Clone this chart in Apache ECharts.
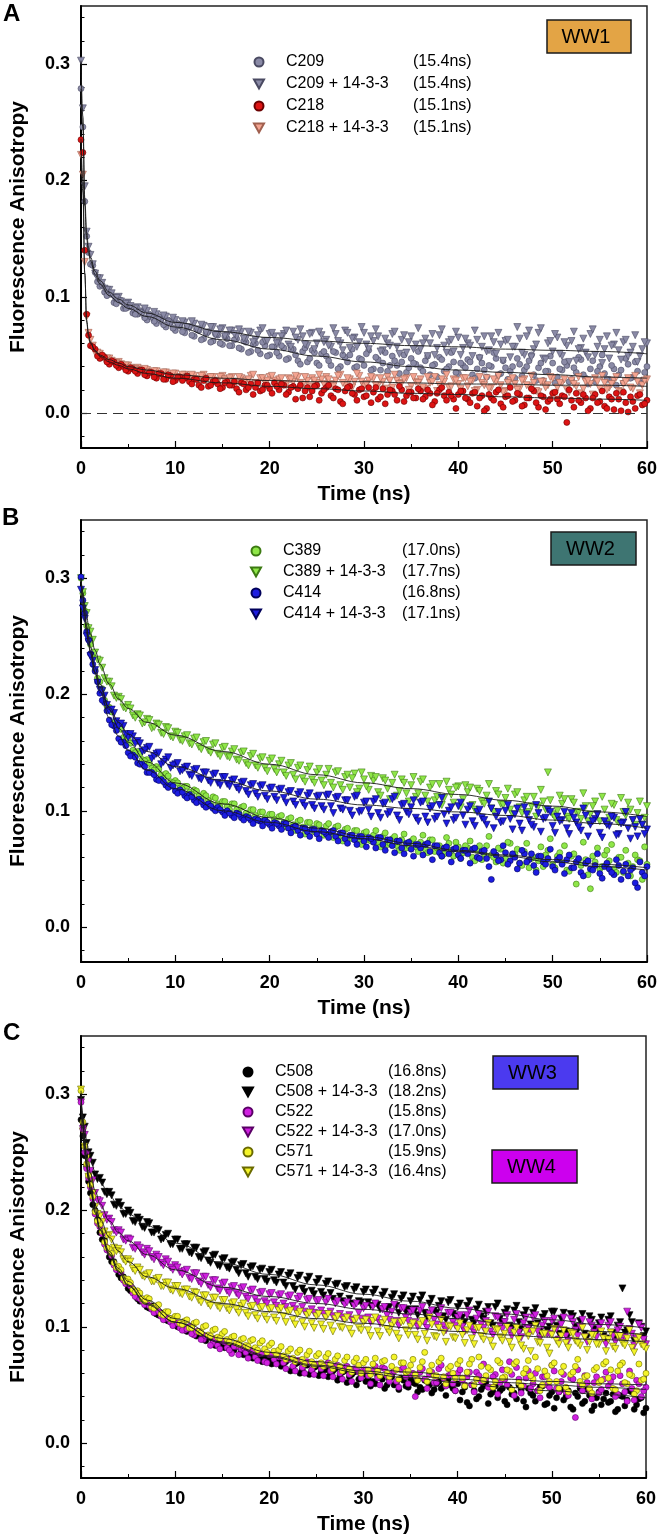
<!DOCTYPE html>
<html><head><meta charset="utf-8">
<script src="https://cdn.jsdelivr.net/npm/echarts@6/dist/echarts.min.js"></script>
<style>html,body{margin:0;padding:0;background:#fff}#c{width:660px;height:1539px}</style>
</head><body><div id="c"></div><script>
// ---------- sample times (ns) ----------
const sampleTimes = [0,0.2,0.4,0.6,0.8,
1,1.5,2,2.5,3,3.5,4,4.5,5,5.5,
6,6.5,7,7.5,8,8.5,9,9.5,10,10.5,
11,11.5,12,12.5,13,13.5,14,14.5,15,15.5,
16,16.5,17,17.5,18,18.5,19,19.5,20,20.5,
21,21.5,22,22.5,23,23.5,24,24.5,25,25.5,
26,26.5,27,27.5,28,28.5,29,29.5,30,30.5,
31,31.5,32,32.5,33,33.5,34,34.5,35,35.5,
36,36.5,37,37.5,38,38.5,39,39.5,40,40.5,
41,41.5,42,42.5,43,43.5,44,44.5,45,45.5,
46,46.5,47,47.5,48,48.5,49,49.5,50,50.5,
51,51.5,52,52.5,53,53.5,54,54.5,55,55.5,
56,56.5,57,57.5,58,58.5,59,59.5,60];
const quarterTimes = [
1.25,1.75,2.25,2.75,3.25,3.75,4.25,4.75,5.25,5.75,
6.25,6.75,7.25,7.75,8.25,8.75,9.25,9.75,10.25,10.75,
11.25,11.75,12.25,12.75,13.25,13.75,14.25,14.75,15.25,15.75,
16.25,16.75,17.25,17.75,18.25,18.75,19.25,19.75,20.25,20.75,
21.25,21.75,22.25,22.75,23.25,23.75,24.25,24.75,25.25,25.75,
26.25,26.75,27.25,27.75,28.25,28.75,29.25,29.75,30.25,30.75,
31.25,31.75,32.25,32.75,33.25,33.75,34.25,34.75,35.25,35.75,
36.25,36.75,37.25,37.75,38.25,38.75,39.25,39.75,40.25,40.75,
41.25,41.75,42.25,42.75,43.25,43.75,44.25,44.75,45.25,45.75,
46.25,46.75,47.25,47.75,48.25,48.75,49.25,49.75,50.25,50.75,
51.25,51.75,52.25,52.75,53.25,53.75,54.25,54.75,55.25,55.75,
56.25,56.75,57.25,57.75,58.25,58.75,59.25,59.75];
const fitTimes = [0,0.2,0.4,0.6,0.8,1,1.5,2,3,4,5,7,10,15,20,25,30,35,40,45,50,55,60];

// ---------- Panel A (WW1) ----------
const namesA = ['C209','C209 + 14-3-3','C218','C218 + 14-3-3'];
const tausA = ['(15.4ns)','(15.4ns)','(15.1ns)','(15.1ns)'];
const c209 = [0.279,0.246,0.182,0.152,0.138,
0.128,0.121,0.109,0.104,0.103,0.095,0.097,0.090,0.091,0.086,
0.085,0.088,0.080,0.083,0.077,0.081,0.074,0.078,0.071,0.075,
0.069,0.074,0.066,0.071,0.064,0.070,0.062,0.067,0.059,0.064,
0.058,0.064,0.055,0.061,0.053,0.060,0.051,0.058,0.050,0.057,
0.049,0.056,0.047,0.055,0.045,0.053,0.044,0.054,0.043,0.051,
0.049,0.041,0.052,0.040,0.048,0.050,0.039,0.047,0.041,0.054,
0.038,0.046,0.043,0.036,0.049,0.041,0.044,0.035,0.047,0.042,
0.039,0.045,0.033,0.042,0.048,0.036,0.040,0.044,0.034,0.041,
0.046,0.033,0.038,0.043,0.031,0.040,0.047,0.034,0.039,0.036,
0.030,0.042,0.037,0.045,0.033,0.039,0.028,0.036,0.043,0.031,
0.037,0.041,0.029,0.035,0.046,0.030,0.038,0.027,0.040,0.034,
0.029,0.038,0.033,0.026,0.042,0.031,0.036,0.028,0.040];
const c209q = [0.127,0.113,0.110,0.101,0.102,0.094,0.097,0.090,0.092,0.085,
0.088,0.082,0.085,0.079,0.083,0.076,0.080,0.073,0.077,0.070,
0.074,0.067,0.072,0.063,0.069,0.061,0.068,0.060,0.066,0.058,
0.063,0.056,0.062,0.052,0.059,0.054,0.061,0.049,0.057,0.052,
0.058,0.046,0.055,0.050,0.042,0.056,0.047,0.052,0.041,0.053,
0.045,0.053,0.038,0.050,0.044,0.055,0.040,0.046,0.051,0.037,
0.048,0.037,0.052,0.041,0.045,0.034,0.050,0.039,0.043,0.053,
0.036,0.049,0.041,0.031,0.046,0.038,0.052,0.035,0.043,0.039,
0.044,0.030,0.048,0.037,0.041,0.052,0.033,0.045,0.029,0.040,
0.047,0.032,0.040,0.050,0.028,0.043,0.036,0.049,0.026,0.038,
0.044,0.027,0.039,0.048,0.033,0.025,0.045,0.036,0.050,0.029,
0.041,0.024,0.037,0.047,0.030,0.044,0.026,0.035];
const c209b = [0.303,0.262,0.195,0.156,0.143,
0.136,0.120,0.116,0.107,0.106,0.099,0.100,0.093,0.095,0.089,
0.091,0.085,0.088,0.082,0.085,0.079,0.083,0.077,0.080,0.075,
0.078,0.073,0.077,0.071,0.075,0.069,0.074,0.068,0.073,0.067,
0.071,0.066,0.070,0.064,0.069,0.063,0.071,0.062,0.068,0.066,
0.061,0.068,0.059,0.070,0.063,0.066,0.058,0.069,0.060,0.067,
0.063,0.057,0.068,0.060,0.071,0.056,0.065,0.061,0.069,0.055,
0.062,0.066,0.054,0.060,0.068,0.057,0.063,0.052,0.066,0.059,
0.055,0.064,0.060,0.050,0.067,0.058,0.061,0.053,0.065,0.056,
0.060,0.049,0.063,0.057,0.053,0.066,0.051,0.059,0.062,0.048,
0.057,0.064,0.050,0.071,0.055,0.069,0.047,0.060,0.053,0.065,
0.049,0.058,0.062,0.045,0.056,0.052,0.068,0.050,0.063,0.055,
0.047,0.059,0.054,0.061,0.049,0.057,0.044,0.055,0.060];
const c209bq = [0.128,0.116,0.112,0.106,0.103,0.099,0.096,0.094,0.092,0.090,
0.086,0.090,0.083,0.087,0.080,0.084,0.078,0.082,0.075,0.079,
0.074,0.079,0.072,0.076,0.069,0.074,0.067,0.072,0.066,0.071,
0.068,0.072,0.064,0.070,0.061,0.067,0.073,0.062,0.069,0.060,
0.066,0.071,0.057,0.065,0.072,0.059,0.068,0.055,0.070,0.061,
0.058,0.073,0.062,0.054,0.069,0.064,0.057,0.074,0.059,0.066,
0.072,0.053,0.064,0.058,0.070,0.051,0.067,0.061,0.055,0.073,
0.060,0.049,0.068,0.056,0.072,0.052,0.063,0.070,0.050,0.064,
0.058,0.071,0.047,0.066,0.054,0.061,0.069,0.045,0.063,0.057,
0.074,0.052,0.066,0.048,0.059,0.073,0.046,0.062,0.068,0.051,
0.061,0.044,0.070,0.055,0.064,0.048,0.072,0.057,0.043,0.066,
0.058,0.069,0.046,0.063,0.052,0.067,0.049,0.061];
const c218 = [0.235,0.224,0.140,0.085,0.067,
0.058,0.055,0.047,0.048,0.042,0.044,0.039,0.040,0.036,0.038,
0.034,0.037,0.032,0.035,0.030,0.034,0.029,0.032,0.028,0.031,
0.030,0.027,0.029,0.024,0.028,0.023,0.027,0.025,0.022,0.027,
0.024,0.021,0.026,0.020,0.025,0.022,0.019,0.024,0.021,0.026,
0.020,0.024,0.018,0.023,0.021,0.013,0.022,0.019,0.024,0.017,
0.022,0.015,0.021,0.010,0.019,0.023,0.016,0.020,0.014,0.022,
0.018,0.012,0.021,0.016,0.019,0.011,0.020,0.015,0.018,0.013,
0.019,0.014,0.017,0.010,0.020,0.015,0.018,0.012,0.016,0.019,
0.012,0.017,0.006,0.015,0.004,0.013,0.018,0.008,0.014,0.022,
0.011,0.016,0.007,0.013,0.019,0.005,0.014,0.010,0.017,0.012,
0.015,-0.008,0.011,0.017,0.009,0.013,0.004,0.016,0.010,0.006,
0.014,0.003,0.012,0.018,0.001,0.010,0.015,0.007,0.011];
const c218q = [0.057,0.049,0.050,0.044,0.045,0.041,0.042,0.037,0.039,0.036,
0.037,0.033,0.035,0.031,0.034,0.029,0.033,0.027,0.031,0.028,
0.032,0.025,0.029,0.022,0.030,0.024,0.028,0.021,0.026,0.024,
0.027,0.018,0.025,0.022,0.016,0.026,0.020,0.024,0.017,0.023,
0.025,0.016,0.022,0.012,0.024,0.019,0.014,0.023,0.011,0.020,
0.024,0.013,0.020,0.008,0.022,0.017,0.011,0.021,0.015,0.009,
0.022,0.014,0.008,0.020,0.016,0.023,0.010,0.018,0.013,0.021,
0.012,0.020,0.007,0.017,0.022,0.011,0.015,0.004,0.019,0.013,
0.009,0.018,0.013,0.002,0.016,0.011,0.020,0.005,0.015,0.010,
0.017,0.006,0.013,0.021,0.009,0.015,0.003,0.012,0.018,0.008,
0.014,0.020,0.005,0.011,0.016,0.002,0.013,0.009,0.019,0.004,
0.012,0.017,0.002,0.009,0.014,0.004,0.016,0.008];
const c218b = [0.222,0.205,0.130,0.083,0.069,
0.063,0.052,0.051,0.046,0.047,0.043,0.044,0.040,0.041,0.038,
0.039,0.036,0.037,0.035,0.036,0.033,0.035,0.032,0.034,0.031,
0.033,0.031,0.032,0.029,0.033,0.030,0.031,0.028,0.032,0.029,
0.031,0.027,0.030,0.028,0.032,0.026,0.030,0.027,0.031,0.028,
0.029,0.025,0.030,0.027,0.031,0.024,0.028,0.030,0.026,0.029,
0.031,0.025,0.028,0.033,0.024,0.029,0.027,0.032,0.023,0.028,
0.030,0.024,0.027,0.031,0.022,0.028,0.026,0.030,0.023,0.027,
0.029,0.021,0.026,0.031,0.024,0.027,0.022,0.029,0.025,0.030,
0.023,0.028,0.020,0.026,0.030,0.022,0.027,0.024,0.019,0.028,
0.025,0.021,0.029,0.023,0.026,0.018,0.027,0.024,0.030,0.022,
0.026,0.020,0.028,0.023,0.017,0.027,0.025,0.030,0.021,0.026,
0.022,0.028,0.019,0.025,0.030,0.021,0.027,0.024,0.029];
const c218bq = [0.058,0.052,0.048,0.047,0.045,0.043,0.042,0.041,0.039,0.038,
0.037,0.038,0.035,0.036,0.033,0.035,0.032,0.034,0.031,0.033,
0.031,0.033,0.029,0.032,0.028,0.031,0.027,0.031,0.029,0.030,
0.027,0.031,0.026,0.029,0.033,0.025,0.030,0.028,0.032,0.026,
0.030,0.024,0.029,0.032,0.026,0.031,0.023,0.028,0.033,0.025,
0.029,0.023,0.032,0.026,0.030,0.022,0.034,0.027,0.025,0.031,
0.024,0.030,0.021,0.028,0.033,0.025,0.029,0.020,0.031,0.026,
0.022,0.031,0.027,0.019,0.029,0.033,0.023,0.028,0.021,0.030,
0.027,0.019,0.031,0.024,0.021,0.029,0.032,0.018,0.026,0.030,
0.020,0.028,0.024,0.032,0.019,0.027,0.022,0.031,0.017,0.026,
0.029,0.018,0.025,0.031,0.021,0.028,0.016,0.027,0.032,0.020,
0.025,0.031,0.018,0.027,0.022,0.032,0.017,0.028];
const fitC209  = [0.279,0.245,0.178,0.150,0.138,0.131,0.119,0.111,0.101,0.095,0.090,0.083,0.074,0.063,0.055,0.049,0.044,0.040,0.037,0.035,0.033,0.031,0.030];
const fitC209b = [0.303,0.255,0.185,0.155,0.142,0.134,0.122,0.114,0.104,0.098,0.093,0.086,0.078,0.070,0.065,0.062,0.060,0.058,0.057,0.055,0.054,0.053,0.051];
const fitC218  = [0.236,0.200,0.120,0.078,0.066,0.060,0.053,0.049,0.044,0.041,0.038,0.034,0.030,0.026,0.023,0.021,0.019,0.017,0.016,0.014,0.013,0.012,0.011];
const fitC218b = [0.222,0.190,0.120,0.080,0.068,0.061,0.054,0.050,0.046,0.043,0.040,0.037,0.033,0.030,0.028,0.027,0.027,0.026,0.025,0.025,0.024,0.024,0.023];

// ---------- Panel B (WW2) ----------
const namesB = ['C389','C389 + 14-3-3','C414','C414 + 14-3-3'];
const tausB = ['(17.0ns)','(17.7ns)','(16.8ns)','(17.1ns)'];
const c389 = [0.300,0.287,0.272,0.259,0.251,
0.243,0.221,0.211,0.195,0.189,0.176,0.173,0.163,0.161,0.152,
0.151,0.144,0.144,0.137,0.138,0.131,0.132,0.125,0.126,0.120,
0.121,0.116,0.118,0.113,0.115,0.109,0.112,0.106,0.108,0.104,
0.106,0.101,0.103,0.098,0.101,0.096,0.099,0.094,0.097,0.093,
0.095,0.090,0.093,0.088,0.091,0.086,0.090,0.085,0.089,0.083,
0.087,0.082,0.086,0.079,0.084,0.077,0.083,0.076,0.081,0.075,
0.079,0.073,0.078,0.071,0.076,0.070,0.075,0.068,0.074,0.069,
0.073,0.067,0.075,0.065,0.070,0.063,0.072,0.061,0.069,0.064,
0.068,0.060,0.066,0.058,0.070,0.062,0.056,0.067,0.059,0.072,
0.063,0.055,0.065,0.051,0.060,0.057,0.052,0.066,0.054,0.061,
0.055,0.049,0.061,0.037,0.053,0.058,0.033,0.056,0.050,0.062,
0.057,0.050,0.060,0.047,0.055,0.052,0.058,0.041,0.054];
const c389q = [0.233,0.214,0.205,0.190,0.185,0.173,0.170,0.160,0.158,0.150,
0.149,0.143,0.141,0.135,0.136,0.128,0.130,0.124,0.124,0.119,
0.121,0.114,0.117,0.110,0.113,0.106,0.111,0.103,0.108,0.101,
0.106,0.098,0.104,0.095,0.101,0.092,0.099,0.090,0.097,0.089,
0.096,0.086,0.094,0.083,0.092,0.080,0.090,0.082,0.088,0.079,
0.089,0.077,0.087,0.074,0.085,0.076,0.083,0.071,0.082,0.074,
0.083,0.069,0.081,0.072,0.078,0.066,0.080,0.070,0.076,0.065,
0.079,0.064,0.075,0.068,0.061,0.077,0.066,0.073,0.059,0.070,
0.074,0.057,0.070,0.063,0.078,0.060,0.068,0.055,0.073,0.062,
0.067,0.053,0.072,0.059,0.049,0.069,0.062,0.076,0.051,0.064,
0.070,0.048,0.063,0.058,0.073,0.045,0.061,0.068,0.052,0.066,
0.071,0.047,0.060,0.066,0.044,0.062,0.057,0.069];
const c389b = [0.300,0.288,0.276,0.270,0.257,
0.254,0.236,0.229,0.214,0.211,0.199,0.198,0.189,0.191,0.182,
0.183,0.175,0.179,0.171,0.175,0.167,0.172,0.164,0.168,0.161,
0.164,0.158,0.162,0.155,0.159,0.152,0.157,0.149,0.154,0.147,
0.151,0.144,0.150,0.141,0.147,0.139,0.145,0.137,0.143,0.136,
0.140,0.133,0.139,0.131,0.137,0.128,0.135,0.127,0.133,0.126,
0.131,0.124,0.133,0.122,0.129,0.120,0.132,0.119,0.127,0.118,
0.126,0.116,0.128,0.119,0.124,0.113,0.127,0.115,0.122,0.112,
0.125,0.113,0.120,0.109,0.123,0.111,0.118,0.107,0.121,0.110,
0.116,0.105,0.119,0.108,0.113,0.102,0.117,0.106,0.111,0.101,
0.114,0.103,0.109,0.099,0.112,0.104,0.108,0.133,0.097,0.100,
0.106,0.095,0.110,0.099,0.093,0.104,0.097,0.108,0.091,0.101,
0.094,0.105,0.090,0.099,0.107,0.092,0.098,0.088,0.104];
const c389bq = [0.247,0.230,0.223,0.211,0.207,0.197,0.196,0.188,0.188,0.180,
0.182,0.176,0.178,0.172,0.174,0.166,0.171,0.163,0.167,0.160,
0.165,0.157,0.163,0.153,0.160,0.150,0.158,0.147,0.155,0.146,
0.153,0.143,0.151,0.139,0.149,0.137,0.146,0.134,0.145,0.133,
0.143,0.130,0.141,0.127,0.139,0.125,0.138,0.124,0.136,0.122,
0.136,0.120,0.134,0.118,0.131,0.128,0.116,0.133,0.121,0.130,
0.129,0.113,0.126,0.110,0.131,0.117,0.124,0.108,0.129,0.115,
0.127,0.108,0.123,0.112,0.105,0.125,0.114,0.120,0.103,0.122,
0.120,0.101,0.117,0.106,0.123,0.099,0.114,0.105,0.119,0.097,
0.116,0.098,0.112,0.104,0.095,0.118,0.101,0.109,0.094,0.113,
0.110,0.093,0.107,0.099,0.115,0.091,0.104,0.097,0.112,0.089,
0.106,0.092,0.111,0.096,0.101,0.088,0.108,0.094];
const c414 = [0.301,0.281,0.270,0.254,0.247,
0.235,0.220,0.201,0.193,0.178,0.173,0.162,0.159,0.150,0.148,
0.141,0.140,0.133,0.133,0.127,0.127,0.122,0.122,0.117,0.118,
0.113,0.114,0.109,0.110,0.105,0.106,0.102,0.103,0.099,0.100,
0.096,0.098,0.094,0.095,0.092,0.093,0.091,0.092,0.088,0.090,
0.087,0.089,0.085,0.086,0.083,0.085,0.082,0.084,0.080,0.083,
0.080,0.082,0.078,0.081,0.076,0.079,0.075,0.078,0.074,0.077,
0.073,0.077,0.071,0.075,0.070,0.074,0.068,0.072,0.067,0.071,
0.068,0.071,0.065,0.070,0.064,0.068,0.063,0.067,0.062,0.066,
0.063,0.067,0.060,0.065,0.059,0.041,0.062,0.058,0.064,0.057,
0.060,0.055,0.063,0.058,0.053,0.061,0.056,0.059,0.052,0.058,
0.054,0.058,0.051,0.056,0.047,0.055,0.050,0.053,0.046,0.052,
0.050,0.045,0.053,0.048,0.044,0.051,0.034,0.047,0.052];
const c414q = [0.226,0.211,0.195,0.186,0.174,0.169,0.159,0.156,0.147,0.146,
0.140,0.138,0.133,0.131,0.126,0.125,0.120,0.121,0.115,0.116,
0.111,0.112,0.107,0.108,0.103,0.104,0.100,0.101,0.096,0.098,
0.094,0.097,0.092,0.094,0.089,0.092,0.087,0.090,0.085,0.089,
0.084,0.089,0.081,0.087,0.079,0.085,0.078,0.084,0.076,0.082,
0.077,0.083,0.074,0.081,0.072,0.079,0.071,0.078,0.069,0.076,
0.068,0.077,0.066,0.075,0.064,0.074,0.063,0.073,0.061,0.071,
0.062,0.072,0.058,0.070,0.061,0.069,0.056,0.068,0.059,0.066,
0.055,0.068,0.059,0.066,0.052,0.065,0.057,0.070,0.054,0.063,
0.050,0.066,0.056,0.063,0.047,0.061,0.054,0.067,0.049,0.060,
0.046,0.062,0.051,0.059,0.044,0.057,0.049,0.063,0.042,0.055,
0.047,0.058,0.041,0.054,0.049,0.038,0.056,0.044];
const c414b = [0.290,0.274,0.265,0.250,0.245,
0.233,0.221,0.204,0.199,0.186,0.184,0.173,0.173,0.163,0.164,
0.160,0.151,0.154,0.145,0.149,0.140,0.144,0.137,0.140,0.134,
0.137,0.131,0.135,0.128,0.133,0.126,0.131,0.124,0.129,0.123,
0.126,0.120,0.124,0.117,0.122,0.115,0.121,0.113,0.119,0.112,
0.118,0.111,0.116,0.108,0.114,0.107,0.113,0.105,0.112,0.104,
0.113,0.104,0.111,0.102,0.109,0.100,0.112,0.099,0.107,0.101,
0.108,0.098,0.106,0.097,0.110,0.096,0.105,0.099,0.103,0.094,
0.107,0.095,0.102,0.093,0.105,0.097,0.100,0.092,0.104,0.096,
0.101,0.091,0.099,0.094,0.088,0.102,0.095,0.090,0.100,0.093,
0.097,0.089,0.103,0.092,0.086,0.098,0.093,0.101,0.087,0.095,
0.092,0.085,0.098,0.090,0.083,0.096,0.088,0.093,0.081,0.091,
0.087,0.094,0.080,0.090,0.085,0.092,0.078,0.088,0.084];
const c414bq = [0.229,0.210,0.203,0.191,0.187,0.177,0.175,0.166,0.166,0.158,
0.158,0.152,0.155,0.147,0.150,0.142,0.146,0.139,0.141,0.135,
0.138,0.130,0.136,0.127,0.133,0.124,0.132,0.122,0.129,0.121,
0.127,0.118,0.125,0.114,0.123,0.112,0.122,0.110,0.120,0.109,
0.119,0.107,0.117,0.105,0.116,0.104,0.115,0.102,0.113,0.101,
0.114,0.098,0.112,0.101,0.109,0.096,0.113,0.100,0.108,0.095,
0.110,0.094,0.107,0.099,0.112,0.092,0.106,0.097,0.109,0.091,
0.108,0.090,0.104,0.095,0.111,0.089,0.103,0.094,0.107,0.088,
0.104,0.087,0.101,0.092,0.108,0.085,0.099,0.091,0.105,0.084,
0.102,0.083,0.097,0.088,0.105,0.082,0.094,0.099,0.081,0.091,
0.099,0.080,0.094,0.086,0.102,0.078,0.091,0.097,0.077,0.088,
0.095,0.079,0.089,0.099,0.076,0.086,0.093,0.080];
const fitC389  = [0.300,0.285,0.271,0.259,0.249,0.241,0.223,0.209,0.187,0.171,0.159,0.142,0.124,0.106,0.094,0.085,0.078,0.072,0.066,0.062,0.058,0.054,0.051];
const fitC389b = [0.300,0.288,0.277,0.268,0.259,0.252,0.238,0.226,0.209,0.196,0.188,0.176,0.165,0.151,0.140,0.131,0.124,0.119,0.114,0.109,0.104,0.099,0.095];
const fitC414  = [0.300,0.283,0.268,0.256,0.246,0.237,0.218,0.203,0.180,0.164,0.152,0.135,0.119,0.100,0.090,0.082,0.076,0.070,0.065,0.061,0.056,0.052,0.049];
const fitC414b = [0.290,0.276,0.263,0.252,0.243,0.235,0.219,0.206,0.189,0.176,0.166,0.151,0.138,0.126,0.117,0.110,0.105,0.102,0.099,0.096,0.092,0.089,0.085];

// ---------- Panel C (WW3 / WW4) ----------
const namesC = ['C508','C508 + 14-3-3','C522','C522 + 14-3-3','C571','C571 + 14-3-3'];
const tausC = ['(16.8ns)','(18.2ns)','(15.8ns)','(17.0ns)','(15.9ns)','(16.4ns)'];
const c508 = [0.278,0.264,0.247,0.238,0.225,
0.215,0.200,0.181,0.174,0.160,0.156,0.145,0.143,0.133,0.132,
0.124,0.124,0.117,0.118,0.111,0.112,0.106,0.107,0.102,0.100,
0.098,0.100,0.095,0.096,0.091,0.092,0.088,0.089,0.085,0.084,
0.083,0.084,0.079,0.081,0.076,0.078,0.074,0.075,0.071,0.073,
0.070,0.068,0.072,0.065,0.069,0.063,0.067,0.062,0.066,0.061,
0.063,0.060,0.064,0.058,0.062,0.057,0.061,0.055,0.059,0.056,
0.053,0.058,0.055,0.050,0.057,0.052,0.056,0.049,0.055,0.051,
0.048,0.054,0.050,0.046,0.053,0.049,0.055,0.047,0.051,0.044,
0.035,0.050,0.038,0.046,0.052,0.042,0.049,0.045,0.036,0.048,
0.043,0.050,0.036,0.047,0.041,0.045,0.049,0.034,0.044,0.039,
0.046,0.040,0.031,0.043,0.047,0.036,0.041,0.032,0.044,0.038,
0.035,0.042,0.029,0.040,0.037,0.044,0.033,0.039,0.030];
const c508q = [0.205,0.192,0.175,0.168,0.156,0.151,0.142,0.139,0.131,0.129,
0.122,0.123,0.116,0.117,0.110,0.111,0.105,0.106,0.100,0.101,
0.096,0.099,0.092,0.094,0.088,0.091,0.084,0.087,0.082,0.085,
0.080,0.083,0.076,0.079,0.073,0.077,0.070,0.075,0.068,0.072,
0.066,0.070,0.062,0.068,0.060,0.067,0.059,0.065,0.058,0.063,
0.057,0.062,0.054,0.061,0.052,0.059,0.050,0.058,0.053,0.049,
0.051,0.057,0.047,0.055,0.050,0.046,0.054,0.048,0.052,0.044,
0.046,0.053,0.043,0.051,0.047,0.041,0.050,0.045,0.037,0.048,
0.032,0.045,0.040,0.049,0.034,0.044,0.039,0.047,0.033,0.042,
0.038,0.046,0.031,0.043,0.036,0.048,0.033,0.041,0.030,0.044,
0.037,0.045,0.029,0.040,0.034,0.046,0.028,0.039,0.033,0.043,
0.036,0.027,0.041,0.032,0.045,0.029,0.038,0.026];
const c508b = [0.295,0.280,0.272,0.258,0.250,
0.247,0.231,0.228,0.216,0.216,0.205,0.207,0.197,0.200,0.191,
0.194,0.186,0.190,0.181,0.184,0.175,0.179,0.171,0.175,0.167,
0.171,0.164,0.168,0.160,0.164,0.157,0.161,0.153,0.158,0.151,
0.155,0.149,0.153,0.146,0.151,0.143,0.149,0.141,0.147,0.140,
0.145,0.138,0.144,0.135,0.142,0.133,0.140,0.131,0.138,0.130,
0.137,0.129,0.136,0.126,0.134,0.124,0.132,0.122,0.130,0.121,
0.129,0.119,0.127,0.116,0.125,0.118,0.124,0.113,0.122,0.115,
0.123,0.112,0.120,0.114,0.118,0.109,0.121,0.111,0.117,0.108,
0.118,0.106,0.115,0.109,0.113,0.103,0.117,0.107,0.112,0.101,
0.114,0.104,0.110,0.099,0.112,0.103,0.108,0.097,0.113,0.101,
0.107,0.096,0.111,0.100,0.105,0.094,0.109,0.098,0.103,0.092,
0.106,0.095,0.101,0.133,0.097,0.104,0.090,0.100,0.096];
const c508bq = [0.241,0.227,0.224,0.214,0.213,0.204,0.204,0.197,0.198,0.190,
0.192,0.185,0.189,0.181,0.183,0.176,0.180,0.171,0.175,0.167,
0.171,0.163,0.168,0.159,0.165,0.155,0.162,0.152,0.159,0.150,
0.156,0.146,0.154,0.143,0.152,0.141,0.150,0.139,0.149,0.138,
0.147,0.135,0.146,0.132,0.144,0.130,0.143,0.128,0.141,0.127,
0.139,0.124,0.137,0.122,0.135,0.120,0.134,0.121,0.132,0.118,
0.132,0.115,0.130,0.117,0.128,0.112,0.127,0.115,0.126,0.110,
0.127,0.108,0.124,0.112,0.122,0.106,0.123,0.109,0.120,0.104,
0.122,0.103,0.119,0.107,0.117,0.101,0.120,0.104,0.115,0.099,
0.118,0.098,0.114,0.102,0.116,0.096,0.111,0.100,0.113,0.094,
0.112,0.093,0.109,0.097,0.111,0.091,0.106,0.095,0.108,0.090,
0.109,0.091,0.104,0.095,0.110,0.088,0.103,0.092];
const c522 = [0.293,0.270,0.250,0.236,0.228,
0.220,0.197,0.186,0.171,0.165,0.153,0.150,0.140,0.138,0.129,
0.125,0.122,0.120,0.115,0.114,0.109,0.108,0.104,0.103,0.099,
0.097,0.100,0.093,0.096,0.089,0.092,0.086,0.084,0.088,0.082,
0.077,0.083,0.081,0.078,0.080,0.074,0.077,0.070,0.076,0.072,
0.074,0.069,0.072,0.066,0.071,0.065,0.070,0.063,0.068,0.064,
0.067,0.062,0.066,0.060,0.065,0.059,0.064,0.061,0.063,0.058,
0.062,0.056,0.065,0.058,0.060,0.053,0.063,0.057,0.059,0.040,
0.061,0.055,0.059,0.052,0.064,0.056,0.058,0.051,0.060,0.054,
0.057,0.050,0.061,0.053,0.056,0.048,0.059,0.052,0.055,0.070,
0.041,0.055,0.049,0.062,0.051,0.045,0.057,0.050,0.067,0.047,
0.053,0.044,0.056,0.022,0.050,0.058,0.046,0.052,0.043,0.055,
0.049,0.057,0.042,0.051,0.036,0.047,0.054,0.040,0.048];
const c522q = [0.210,0.189,0.180,0.166,0.161,0.149,0.147,0.137,0.135,0.126,
0.124,0.119,0.118,0.112,0.113,0.106,0.107,0.101,0.103,0.097,
0.098,0.094,0.096,0.089,0.092,0.084,0.090,0.081,0.087,0.080,
0.083,0.076,0.082,0.073,0.079,0.071,0.077,0.069,0.076,0.068,
0.074,0.064,0.072,0.062,0.071,0.060,0.069,0.059,0.068,0.058,
0.069,0.057,0.067,0.055,0.066,0.053,0.064,0.056,0.063,0.051,
0.066,0.050,0.064,0.053,0.062,0.048,0.065,0.051,0.060,0.055,
0.064,0.047,0.061,0.052,0.067,0.049,0.059,0.045,0.063,0.050,
0.061,0.044,0.058,0.068,0.048,0.057,0.042,0.063,0.050,0.059,
0.065,0.043,0.056,0.047,0.060,0.039,0.057,0.048,0.062,0.044,
0.059,0.041,0.055,0.063,0.045,0.052,0.038,0.057,0.046,0.061,
0.053,0.040,0.058,0.044,0.062,0.037,0.051,0.045];
const c522b = [0.293,0.270,0.265,0.248,0.242,
0.234,0.215,0.208,0.196,0.193,0.183,0.183,0.175,0.176,0.168,
0.170,0.164,0.167,0.160,0.162,0.155,0.158,0.151,0.153,0.147,
0.148,0.142,0.146,0.139,0.143,0.136,0.140,0.133,0.137,0.131,
0.134,0.129,0.133,0.126,0.131,0.124,0.129,0.122,0.128,0.121,
0.127,0.120,0.126,0.118,0.124,0.117,0.123,0.115,0.122,0.114,
0.121,0.113,0.120,0.111,0.119,0.110,0.118,0.112,0.116,0.108,
0.117,0.107,0.115,0.110,0.113,0.105,0.116,0.108,0.112,0.104,
0.114,0.103,0.111,0.106,0.109,0.101,0.112,0.104,0.108,0.100,
0.110,0.099,0.107,0.102,0.105,0.096,0.109,0.101,0.104,0.097,
0.106,0.095,0.103,0.099,0.108,0.096,0.101,0.094,0.105,0.098,
0.102,0.092,0.107,0.097,0.100,0.091,0.104,0.095,0.099,0.090,
0.101,0.092,0.097,0.088,0.113,0.094,0.090,0.099,0.085];
const c522bq = [0.226,0.209,0.204,0.192,0.190,0.181,0.181,0.174,0.175,0.167,
0.168,0.162,0.165,0.158,0.160,0.153,0.156,0.149,0.151,0.145,
0.149,0.141,0.146,0.137,0.143,0.134,0.140,0.131,0.138,0.129,
0.135,0.127,0.134,0.124,0.132,0.121,0.130,0.120,0.129,0.118,
0.128,0.117,0.127,0.115,0.126,0.113,0.124,0.112,0.123,0.111,
0.124,0.109,0.122,0.108,0.121,0.106,0.120,0.107,0.118,0.104,
0.120,0.103,0.117,0.106,0.119,0.101,0.116,0.105,0.114,0.100,
0.117,0.099,0.114,0.102,0.116,0.097,0.112,0.101,0.110,0.096,
0.114,0.095,0.111,0.099,0.113,0.093,0.108,0.098,0.110,0.092,
0.111,0.091,0.108,0.096,0.110,0.090,0.105,0.094,0.107,0.089,
0.108,0.088,0.104,0.092,0.106,0.087,0.101,0.091,0.103,0.085,
0.104,0.087,0.100,0.091,0.098,0.084,0.102,0.089];
const c571 = [0.303,0.276,0.255,0.240,0.230,
0.222,0.199,0.188,0.173,0.167,0.155,0.152,0.142,0.141,0.132,
0.131,0.124,0.125,0.117,0.118,0.111,0.113,0.107,0.109,0.103,
0.105,0.099,0.103,0.096,0.100,0.093,0.097,0.091,0.094,0.089,
0.091,0.086,0.089,0.084,0.088,0.082,0.086,0.081,0.084,0.079,
0.080,0.075,0.079,0.073,0.078,0.072,0.076,0.070,0.075,0.069,
0.074,0.068,0.072,0.066,0.071,0.064,0.070,0.067,0.069,0.063,
0.068,0.062,0.070,0.060,0.066,0.063,0.069,0.061,0.067,0.059,
0.065,0.078,0.062,0.058,0.070,0.057,0.064,0.060,0.068,0.056,
0.061,0.072,0.055,0.066,0.058,0.063,0.053,0.069,0.057,0.062,
0.068,0.052,0.060,0.071,0.055,0.064,0.050,0.058,0.067,0.053,
0.061,0.048,0.059,0.066,0.053,0.057,0.047,0.063,0.052,0.068,
0.056,0.047,0.062,0.069,0.051,0.058,0.045,0.054,0.060];
const c571q = [0.212,0.191,0.182,0.168,0.163,0.151,0.149,0.139,0.138,0.130,
0.129,0.122,0.124,0.116,0.119,0.110,0.113,0.106,0.109,0.102,
0.106,0.099,0.104,0.095,0.101,0.092,0.098,0.090,0.096,0.087,
0.092,0.085,0.090,0.083,0.089,0.080,0.088,0.078,0.086,0.076,
0.083,0.072,0.081,0.070,0.080,0.068,0.079,0.067,0.077,0.066,
0.077,0.064,0.075,0.062,0.074,0.061,0.073,0.060,0.072,0.059,
0.073,0.058,0.071,0.057,0.074,0.055,0.069,0.062,0.072,0.054,
0.070,0.053,0.067,0.058,0.073,0.051,0.066,0.056,0.071,0.049,
0.068,0.050,0.074,0.054,0.065,0.048,0.071,0.056,0.063,0.046,
0.070,0.049,0.064,0.058,0.074,0.045,0.062,0.053,0.069,0.047,
0.066,0.044,0.061,0.072,0.050,0.058,0.043,0.065,0.054,0.070,
0.063,0.046,0.067,0.052,0.059,0.042,0.068,0.055];
const c571b = [0.304,0.268,0.255,0.245,0.229,
0.224,0.203,0.195,0.182,0.179,0.168,0.167,0.158,0.158,0.150,
0.151,0.144,0.145,0.139,0.141,0.135,0.138,0.132,0.135,0.129,
0.132,0.126,0.130,0.123,0.127,0.120,0.125,0.118,0.123,0.116,
0.120,0.115,0.118,0.112,0.117,0.110,0.116,0.109,0.115,0.108,
0.114,0.109,0.113,0.106,0.111,0.104,0.110,0.103,0.109,0.102,
0.108,0.101,0.107,0.100,0.106,0.098,0.105,0.099,0.104,0.097,
0.105,0.096,0.103,0.098,0.101,0.094,0.104,0.097,0.100,0.093,
0.102,0.094,0.108,0.092,0.099,0.095,0.101,0.091,0.098,0.093,
0.097,0.090,0.099,0.092,0.096,0.088,0.098,0.091,0.094,0.087,
0.095,0.089,0.081,0.092,0.096,0.087,0.094,0.082,0.093,0.088,
0.092,0.086,0.095,0.088,0.084,0.091,0.087,0.093,0.085,0.090,
0.089,0.083,0.092,0.086,0.090,0.082,0.088,0.085,0.081];
const c571bq = [0.215,0.197,0.190,0.178,0.175,0.165,0.164,0.156,0.156,0.148,
0.149,0.143,0.146,0.139,0.142,0.135,0.138,0.131,0.135,0.128,
0.132,0.125,0.129,0.121,0.127,0.118,0.125,0.116,0.123,0.114,
0.121,0.112,0.120,0.109,0.118,0.107,0.117,0.106,0.116,0.105,
0.116,0.104,0.114,0.102,0.113,0.100,0.112,0.099,0.111,0.098,
0.111,0.096,0.109,0.099,0.108,0.094,0.107,0.097,0.106,0.092,
0.108,0.092,0.106,0.095,0.104,0.090,0.105,0.093,0.103,0.089,
0.105,0.088,0.102,0.091,0.106,0.087,0.100,0.090,0.103,0.086,
0.101,0.085,0.099,0.089,0.103,0.083,0.097,0.088,0.100,0.082,
0.099,0.084,0.096,0.079,0.101,0.086,0.094,0.077,0.098,0.085,
0.097,0.082,0.094,0.086,0.099,0.080,0.093,0.085,0.096,0.079,
0.095,0.081,0.092,0.084,0.097,0.078,0.091,0.083];
const fitC508  = [0.278,0.262,0.248,0.236,0.226,0.217,0.198,0.183,0.162,0.147,0.135,0.119,0.104,0.086,0.074,0.066,0.060,0.056,0.052,0.048,0.045,0.042,0.039];
const fitC508b = [0.295,0.282,0.270,0.260,0.252,0.245,0.233,0.225,0.213,0.204,0.197,0.187,0.172,0.155,0.145,0.136,0.128,0.122,0.116,0.111,0.106,0.102,0.099];
const fitC522  = [0.292,0.270,0.252,0.238,0.227,0.218,0.199,0.184,0.163,0.148,0.136,0.120,0.104,0.087,0.075,0.067,0.062,0.058,0.055,0.052,0.050,0.048,0.046];
const fitC522b = [0.293,0.276,0.262,0.250,0.240,0.232,0.217,0.206,0.191,0.181,0.174,0.162,0.149,0.134,0.126,0.120,0.115,0.111,0.107,0.103,0.100,0.096,0.093];
const fitC571  = [0.300,0.275,0.255,0.240,0.229,0.220,0.201,0.186,0.165,0.150,0.139,0.123,0.107,0.090,0.078,0.070,0.065,0.061,0.058,0.055,0.053,0.051,0.050];
const fitC571b = [0.303,0.278,0.258,0.243,0.231,0.222,0.205,0.193,0.177,0.165,0.156,0.143,0.133,0.120,0.113,0.107,0.103,0.099,0.096,0.093,0.091,0.089,0.087];

// ---------- axis ticks ----------
const yMajorTicks = [0,0.1,0.2,0.3];
const yMinorTicks = [-0.02,0.02,0.04,0.06,0.08,0.12,0.14,0.16,0.18,0.22,0.24,0.26,0.28,0.32,0.34];
const panelLetters = ['A','B','C'];

// ---------- build ----------
const FONT = '"Liberation Sans", Arial, Helvetica, sans-serif';
const DOWN_TRI = 'path://M0,0L10,0L5,9Z';
const grids = [
  {left:76, right:13, top:6, height:442},
  {left:76, right:12, top:520, height:442},
  {left:73, right:14, top:1036, height:442}
];
const xAxes = [], yAxes = [];
grids.forEach((g,gi)=>{
  xAxes.push({type:'value', gridIndex:gi, min:0, max:60, interval:10,
    name:'Time (ns)', nameLocation:'middle', nameGap:36,
    nameTextStyle:{fontFamily:FONT, fontWeight:'bold', fontSize:21, color:'#000'},
    axisLine:{show:true, onZero:false, lineStyle:{color:'#000', width:2}},
    axisTick:{show:true, inside:true, length:7, lineStyle:{color:'#000', width:1.2}},
    minorTick:{show:true, splitNumber:2, length:4, lineStyle:{color:'#000', width:1}},
    splitLine:{show:false}, minorSplitLine:{show:false},
    axisLabel:{fontFamily:FONT, fontWeight:'bold', fontSize:18, color:'#000', margin:12}
  });
  yAxes.push({type:'value', gridIndex:gi, min:-0.03, max:0.35, position:'left',
    name:'Fluorescence Anisotropy', nameLocation:'middle', nameGap:52,
    nameTextStyle:{fontFamily:FONT, fontWeight:'bold', fontSize:21, color:'#000'},
    axisLine:{show:true, onZero:false, lineStyle:{color:'#000', width:2}},
    axisTick:{show:true, inside:true, length:6, customValues:yMajorTicks, lineStyle:{color:'#000', width:1.2}},
    splitLine:{show:false},
    axisLabel:{customValues:yMajorTicks, formatter:v=>v.toFixed(1), fontFamily:FONT, fontWeight:'bold', fontSize:18, color:'#000', margin:11}
  });
  yAxes.push({type:'value', gridIndex:gi, min:-0.03, max:0.35, position:'left',
    axisLine:{show:false},
    axisTick:{show:true, inside:true, length:3.5, customValues:yMinorTicks, lineStyle:{color:'#000', width:1}},
    splitLine:{show:false}, axisLabel:{show:false}
  });
});

function scat(name, vals, qvals, gi, color, border, tri){
  const data = vals.map((v,i)=>[sampleTimes[i], v])
    .concat(qvals.map((v,i)=>[quarterTimes[i], v]));
  return {type:'scatter', name, xAxisIndex:gi, yAxisIndex:gi*2, data,
    symbol: tri ? 'triangle' : 'circle', symbolRotate: tri ? 180 : 0,
    symbolSize: tri ? 7 : 6, silent:true, z:2,
    itemStyle:{color, borderColor:border, borderWidth:0.6, opacity:1}};
}
function fit(vals, gi){
  return {type:'line', xAxisIndex:gi, yAxisIndex:gi*2,
    data: vals.map((v,i)=>[fitTimes[i], v]), symbol:'none', showSymbol:false,
    smooth:0.4, smoothMonotone:'x', silent:true, z:3,
    lineStyle:{color:'#1a1a1a', width:0.9}};
}
const series = [
  scat('C209', c209, c209q, 0, '#8a8aa6', '#4a4a62', false),
  scat('C209 + 14-3-3', c209b, c209bq, 0, '#8a8aa6', '#4a4a62', true),
  scat('C218 + 14-3-3', c218b, c218bq, 0, '#f4a491', '#a0604f', true),
  scat('C218', c218, c218q, 0, '#dd1414', '#6a0000', false),
  fit(fitC209,0), fit(fitC209b,0), fit(fitC218,0), fit(fitC218b,0),
  scat('C389', c389, c389q, 1, '#8fe648', '#3c7a12', false),
  scat('C389 + 14-3-3', c389b, c389bq, 1, '#8fe648', '#3c7a12', true),
  scat('C414', c414, c414q, 1, '#1c1ce0', '#00005a', false),
  scat('C414 + 14-3-3', c414b, c414bq, 1, '#1c1ce0', '#00005a', true),
  fit(fitC389,1), fit(fitC389b,1), fit(fitC414,1), fit(fitC414b,1),
  scat('C508 + 14-3-3', c508b, c508bq, 2, '#000000', '#000000', true),
  scat('C522 + 14-3-3', c522b, c522bq, 2, '#d020e0', '#5a0066', true),
  scat('C571 + 14-3-3', c571b, c571bq, 2, '#f4f42a', '#6a6a00', true),
  scat('C508', c508, c508q, 2, '#000000', '#000000', false),
  scat('C522', c522, c522q, 2, '#d020e0', '#5a0066', false),
  scat('C571', c571, c571q, 2, '#f4f42a', '#6a6a00', false),
  fit(fitC508,2), fit(fitC508b,2), fit(fitC522,2), fit(fitC522b,2), fit(fitC571,2), fit(fitC571b,2)
];
// dashed zero line in panel A
series[0].markLine = {silent:true, symbol:'none', label:{show:false},
  lineStyle:{color:'#333', width:1, type:[10,6]}, data:[{yAxis:0}]};

function makeLegend(names, taus, left, top, gap, nameW){
  const tau = {}; names.forEach((n,i)=>tau[n]=taus[i]);
  return {data: names.map(n => ({name:n, icon: n.indexOf('+') >= 0 ? DOWN_TRI : 'circle'})),
    orient:'vertical', left, top, padding:0, itemGap:gap,
    itemWidth:10, itemHeight:9, selectedMode:false,
    formatter: n => `{s| }{n|${n}}{t|${tau[n]}}`,
    textStyle:{fontFamily:FONT, fontSize:16, color:'#000',
      rich:{s:{width:17, fontFamily:FONT, fontSize:16},
            n:{width:nameW, fontFamily:FONT, fontSize:16, color:'#000'},
            t:{fontFamily:FONT, fontSize:16, color:'#000'}}}};
}
const legends = [
  makeLegend(namesA, tausA, 253, 54, 6, 127),
  makeLegend(namesB, tausB, 250, 543, 5, 119),
  makeLegend(namesC, tausC, 242, 1064, 4, 113)
];

function box(x,y,w,h,fill,text){
  return {type:'group', silent:true, children:[
    {type:'rect', shape:{x, y, width:w, height:h}, style:{fill, stroke:'#1a1a1a', lineWidth:1.5}},
    {type:'text', style:{x:x+w/2-3, y:y+h/2+1, text, fill:'#000', font:'20px '+FONT, align:'center', verticalAlign:'middle', textAlign:'center', textVerticalAlign:'middle'}}
  ]};
}
const titles = [
  {text:panelLetters[0], left:3, top:2},
  {text:panelLetters[1], left:2, top:506},
  {text:panelLetters[2], left:3, top:1021}
].map(t=>Object.assign(t,{padding:0, textStyle:{fontFamily:FONT, fontWeight:'bold', fontSize:24, color:'#000'}}));

const chart = echarts.init(document.getElementById('c'), null, {renderer:'canvas'});
chart.setOption({
  animation:false,
  backgroundColor:'#fff',
  textStyle:{fontFamily:FONT},
  title: titles,
  grid: grids.map(g=>Object.assign({show:true, borderColor:'#222', borderWidth:1.5, backgroundColor:'transparent'}, g)),
  xAxis: xAxes, yAxis: yAxes,
  legend: legends,
  series,
  graphic: [
    box(547,20,84,33,'#e3a445','WW1'),
    box(551,532,85,33,'#3e7572','WW2'),
    box(493,1056,85,33,'#4b3aef','WW3'),
    box(492,1150,85,33,'#cc00ee','WW4')
  ]
});
</script></body></html>
